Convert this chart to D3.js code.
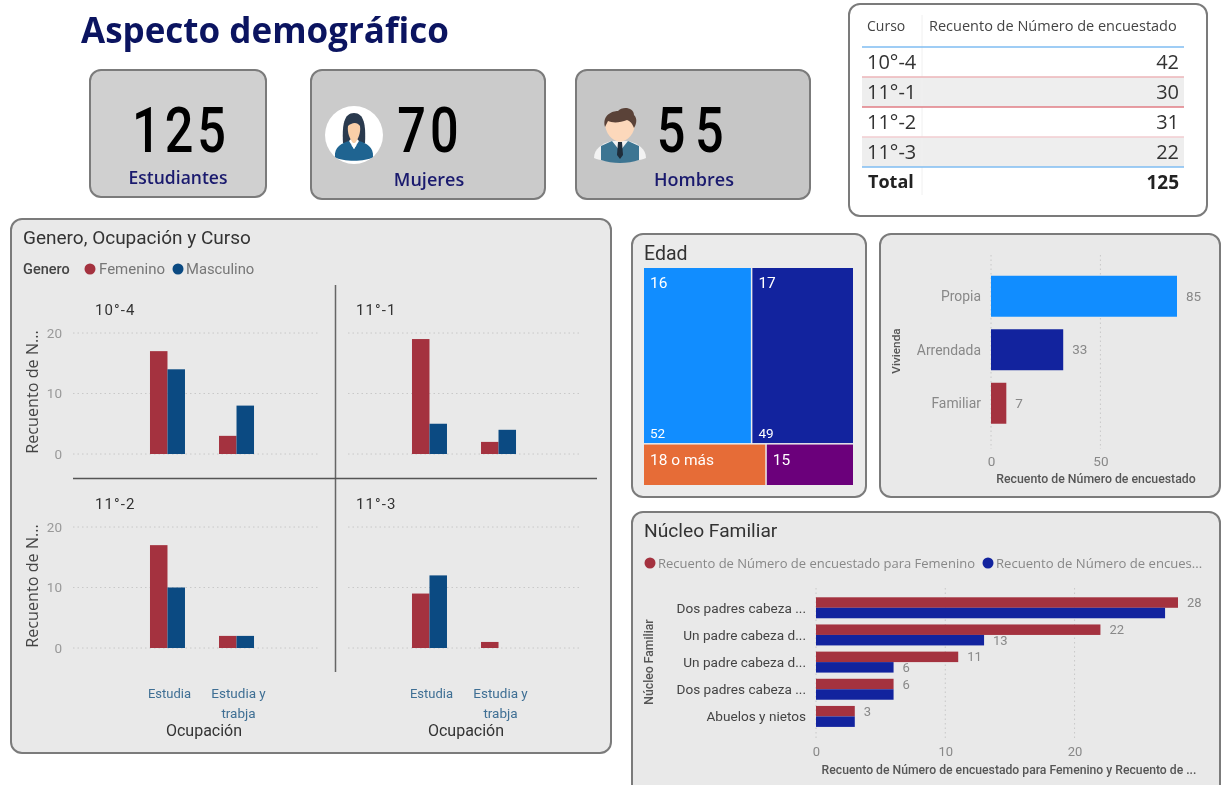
<!DOCTYPE html>
<html>
<head>
<meta charset="utf-8">
<script src="https://cdn.jsdelivr.net/npm/d3@7"></script>
<style>
  html, body { margin: 0; padding: 0; background: #fff; overflow: hidden; }
  text { font-family: "Roboto", sans-serif; }
  .segoe { font-family: "Open Sans", sans-serif; }
  svg { filter: blur(0.35px); }
</style>
</head>
<body>
<div id="chart"></div>
<script>
// tarjetas
const kpiValues = ["125", "70", "55"];
const kpiLabels = ["Estudiantes", "Mujeres", "Hombres"];

// tabla por curso
const cursos = ["10°-4", "11°-1", "11°-2", "11°-3"];
const cursoTotales = [42, 30, 31, 22];
const totalGeneral = 125;

// genero, ocupacion y curso
const ocupaciones = ["Estudia", "Estudia y trabja"];
const femenino = [[17, 3], [19, 2], [17, 2], [9, 1]];
const masculino = [[14, 8], [5, 4], [10, 2], [12, 0]];
const facetTicks = [0, 10, 20];

// edad
const edades = ["16", "17", "18 o más", "15"];
const edadValores = [52, 49, 14, 10];
const edadColores = ["#118dff", "#12239e", "#e66c37", "#6b007b"];

// vivienda
const viviendas = ["Propia", "Arrendada", "Familiar"];
const viviendaValores = [85, 33, 7];
const viviendaColores = ["#118dff", "#12239e", "#a4323f"];
const viviendaTicks = [0, 50];

// nucleo familiar
const nucleos = ["Dos padres cabeza ...", "Un padre cabeza d...", "Un padre cabeza d...", "Dos padres cabeza ...", "Abuelos y nietos"];
const nucleoFem = [28, 22, 11, 6, 3];
const nucleoMasc = [27, 13, 6, 6, 3];
const nucleoMascEtiqueta = [false, true, true, false, false]; // las demas no caben
const nucleoTicks = [0, 10, 20];

const red = "#a4323f";
const blue = "#0b4a82";
const navy = "#12239e";
const border = "#7b7b7b";

const svg = d3.select("#chart").append("svg")
    .attr("width", 1221)
    .attr("height", 785)
    .style("display", "block");

function card(x, y, w, h, fill) {
    svg.append("rect")
        .attr("x", x).attr("y", y)
        .attr("width", w).attr("height", h)
        .attr("rx", 11)
        .attr("fill", fill)
        .attr("stroke", border)
        .attr("stroke-width", 2);
}

function label(g, x, y, txt, size, color, anchor, cls) {
    return g.append("text")
        .attr("class", cls || null)
        .attr("x", x).attr("y", y)
        .attr("dy", "0.35em")
        .attr("text-anchor", anchor || "start")
        .attr("font-size", size)
        .attr("fill", color)
        .text(txt);
}

// titulo
label(svg, 81, 31, "Aspecto demográfico", 35, "#0b1460", "start", "segoe")
    .attr("font-weight", 700);

// tarjetas KPI
const kpiBoxes = [
    {x: 90, y: 70, w: 176, h: 127, fill: "#d0d0d0", vx: 181, lx: 178, ly: 178, spacing: 5, ls: 17.5},
    {x: 311, y: 70, w: 234, h: 129, fill: "#cbcbcb", vx: 430, lx: 429, ly: 180, spacing: 5, ls: 18},
    {x: 576, y: 70, w: 234, h: 129, fill: "#c6c6c6", vx: 695, lx: 694, ly: 180, spacing: 12, ls: 18}
];
kpiBoxes.forEach((b, i) => {
    card(b.x, b.y, b.w, b.h, b.fill);
    // digitos estrechos, como la fuente del original
    svg.append("text")
        .attr("transform", "translate(" + b.vx + ",130) scale(0.8,1)")
        .attr("dy", "0.35em")
        .attr("text-anchor", "middle")
        .attr("font-size", 63)
        .attr("font-weight", 500)
        .attr("letter-spacing", b.spacing)
        .attr("fill", "#000")
        .text(kpiValues[i]);
    label(svg, b.lx, b.ly, kpiLabels[i], b.ls, "#1a1a6e", "middle", "segoe")
        .attr("font-weight", 600);
});

// icono mujer
const woman = svg.append("g").attr("transform", "translate(354,135)");
woman.append("circle").attr("r", 29).attr("fill", "#fff");
woman.append("path").attr("fill", "#2a3a4e")
    .attr("d", "M-11,8 C-12,-10 -10,-22 0,-22 C10,-22 12,-10 11,8 L6,10 L-6,10 Z");
woman.append("path").attr("fill", "#1f6491")
    .attr("d", "M-19,22 C-20,12 -12,8 -5,6 L0,14 L5,6 C12,8 20,12 19,22 C12,27 -12,27 -19,22 Z");
woman.append("path").attr("fill", "#fff")
    .attr("d", "M-5,6 L0,14 L5,6 L2,3 L-2,3 Z");
woman.append("path").attr("fill", "#f9cfa8")
    .attr("d", "M-6,-9 C-3,-12 3,-14 6,-9 C7,-2 4,4 1,8 L-1,8 C-4,4 -7,-2 -6,-9 Z");

// icono hombre
const man = svg.append("g").attr("transform", "translate(620,135)");
man.append("path").attr("fill", "#f2f2f2")
    .attr("d", "M-26,23 C-26,14 -18,8 -8,6 L8,6 C18,8 26,14 26,23 C14,28 -14,28 -26,23 Z");
man.append("path").attr("fill", "#3d7592")
    .attr("d", "M-19,25 L-19,11 L-8,6 L0,16 L8,6 L19,11 L19,25 C8,29 -8,29 -19,25 Z");
man.append("path").attr("fill", "#1f2d3a")
    .attr("d", "M-2,7 L2,7 L3,20 L0,24 L-3,20 Z");
man.append("path").attr("fill", "#fcd8bb")
    .attr("d", "M-15,-12 C-15,-18 15,-18 15,-12 C15,-2 8,6 0,7 C-8,6 -15,-2 -15,-12 Z");
man.append("path").attr("fill", "#5a4238")
    .attr("d", "M-15,-8 C-18,-20 -8,-24 -2,-24 C2,-29 14,-28 14,-20 C18,-16 16,-10 14,-7 C12,-12 10,-14 7,-15 C0,-12 -8,-12 -12,-14 C-13,-12 -14,-10 -15,-8 Z");

// tabla
card(849, 4, 358, 212, "#fff");
const table = svg.append("g");
const rowY = d3.scaleBand().domain(cursos).range([47, 167]);
const rowLines = ["#ecb4b9", "#e07d84", "#f2ccd0"];
cursos.forEach((c, i) => {
    if (i % 2 == 1) {
        table.append("rect")
            .attr("x", 862).attr("y", rowY(c))
            .attr("width", 322).attr("height", rowY.bandwidth())
            .attr("fill", "#eeeeee");
    }
});
table.append("line")
    .attr("x1", 922).attr("x2", 922)
    .attr("y1", 15).attr("y2", 195)
    .attr("stroke", "#f0f0f0");
[47, 167].forEach(y => {
    table.append("line")
        .attr("x1", 862).attr("x2", 1184)
        .attr("y1", y).attr("y2", y)
        .attr("stroke", "#7fbdf2").attr("stroke-width", 1.5);
});
rowLines.forEach((col, i) => {
    const y = rowY(cursos[i + 1]);
    table.append("line")
        .attr("x1", 862).attr("x2", 1184)
        .attr("y1", y).attr("y2", y)
        .attr("stroke", col).attr("stroke-width", 1.5);
});
label(table, 867, 26, "Curso", 14, "#444", "start", "segoe");
label(table, 929, 26, "Recuento de Número de encuestado", 14.5, "#444", "start", "segoe");
cursos.forEach((c, i) => {
    const yc = rowY(c) + rowY.bandwidth() / 2;
    label(table, 867, yc, c, 20, "#333", "start", "segoe");
    label(table, 1179, yc, cursoTotales[i], 20, "#333", "end", "segoe");
});
label(table, 868, 182, "Total", 18, "#222", "start", "segoe").attr("font-weight", 700);
label(table, 1179, 182, totalGeneral, 19, "#222", "end", "segoe").attr("font-weight", 700);

// panel genero / ocupacion / curso
card(11, 219, 600, 534, "#e9e9e9");
label(svg, 23, 237, "Genero, Ocupación y Curso", 19, "#333");
label(svg, 23, 269, "Genero", 14.5, "#444").attr("font-weight", 500);
svg.append("circle").attr("cx", 90).attr("cy", 269).attr("r", 5.5).attr("fill", red);
label(svg, 99, 269, "Femenino", 15, "#777");
svg.append("circle").attr("cx", 178).attr("cy", 269).attr("r", 5.5).attr("fill", blue);
label(svg, 186, 269, "Masculino", 14.8, "#777");

const facets = [
    {x0: 133, y0: 454, y1: 333, gx0: 73, gx1: 320, lx: 95, ly: 310},
    {x0: 395, y0: 454, y1: 333, gx0: 348, gx1: 581, lx: 356, ly: 310},
    {x0: 133, y0: 648, y1: 527, gx0: 73, gx1: 320, lx: 95, ly: 504},
    {x0: 395, y0: 648, y1: 527, gx0: 348, gx1: 581, lx: 356, ly: 504}
];
const series = ["Femenino", "Masculino"];

facets.forEach((f, i) => {
    const g = svg.append("g");
    const x = d3.scaleBand()
        .domain(ocupaciones)
        .range([f.x0, f.x0 + 138])
        .paddingInner(0.493)
        .paddingOuter(0.246);
    const x1 = d3.scaleBand().domain(series).range([0, x.bandwidth()]);
    const y = d3.scaleLinear().domain([0, 20]).range([f.y0, f.y1]);

    g.selectAll("line.grid").data(facetTicks).enter().append("line")
        .attr("class", "grid")
        .attr("x1", f.gx0).attr("x2", f.gx1)
        .attr("y1", d => y(d)).attr("y2", d => y(d))
        .attr("stroke", "#c8c8c8")
        .attr("stroke-dasharray", "1.5 3");

    if (i % 2 == 0) {
        const axis = g.append("g")
            .attr("transform", "translate(66,0)")
            .call(d3.axisLeft(y).tickValues(facetTicks).tickSize(0).tickPadding(4));
        axis.select(".domain").remove();
        axis.selectAll("text").attr("font-size", 13.5).attr("fill", "#999").style("font-family", "Roboto");
        g.append("text")
            .attr("transform", "translate(32," + (f.y0 - 62) + ") rotate(-90)")
            .attr("dy", "0.35em")
            .attr("text-anchor", "middle")
            .attr("font-size", 16.2)
            .attr("fill", "#444")
            .attr("class", "segoe")
            .text("Recuento de N...");
    }

    ocupaciones.forEach((o, j) => {
        g.append("rect")
            .attr("x", x(o) + x1("Femenino"))
            .attr("y", y(femenino[i][j]))
            .attr("width", x1.bandwidth())
            .attr("height", y(0) - y(femenino[i][j]))
            .attr("fill", red);
        g.append("rect")
            .attr("x", x(o) + x1("Masculino"))
            .attr("y", y(masculino[i][j]))
            .attr("width", x1.bandwidth())
            .attr("height", y(0) - y(masculino[i][j]))
            .attr("fill", blue);
    });

    label(g, f.lx, f.ly, cursos[i], 15, "#333").attr("letter-spacing", 1.1);

    if (i >= 2) {
        const cx = o => x(o) + x.bandwidth() / 2 + 2;
        label(g, cx(ocupaciones[0]), 693, "Estudia", 13, "#3f6f94", "middle");
        label(g, cx(ocupaciones[1]), 693, "Estudia y", 13.5, "#3f6f94", "middle");
        label(g, cx(ocupaciones[1]), 713, "trabja", 13.5, "#3f6f94", "middle");
        label(g, f.x0 + 71, 730, "Ocupación", 16, "#333", "middle");
    }
});

// divisores de facetas
svg.append("line").attr("x1", 335.5).attr("x2", 335.5).attr("y1", 285).attr("y2", 672)
    .attr("stroke", "#666").attr("stroke-width", 1.5);
svg.append("line").attr("x1", 73).attr("x2", 597).attr("y1", 478.5).attr("y2", 478.5)
    .attr("stroke", "#555").attr("stroke-width", 1.5);

// edad (treemap)
card(632, 234, 234, 263, "#ebebeb");
label(svg, 644, 253, "Edad", 19.5, "#333");
const root = d3.hierarchy({children: edades.map((e, i) => ({name: e, value: edadValores[i], color: edadColores[i]}))})
    .sum(d => d.value || 0);
d3.treemap().tile(d3.treemapSquarify).size([209, 217]).paddingInner(1.5)(root);
const tm = svg.append("g").attr("transform", "translate(644,268)");
root.leaves().forEach((d, i) => {
    tm.append("rect")
        .attr("x", d.x0).attr("y", d.y0)
        .attr("width", d.x1 - d.x0).attr("height", d.y1 - d.y0)
        .attr("fill", d.data.color);
    label(tm, d.x0 + 6, d.y0 + 15, d.data.name, 15.5, "#fff");
    if (i < 2) label(tm, d.x0 + 6, d.y1 - 10, d.data.value, 13.5, "#fff");
});

// vivienda
card(880, 234, 340, 263, "#e9e9e9");
const vx = d3.scaleLinear().domain([0, 85]).range([991, 1177]);
const vy = d3.scaleBand().domain(viviendas).range([269.5, 430]).paddingInner(0.234).paddingOuter(0.117);
const vg = svg.append("g");
vg.selectAll("line.grid").data(viviendaTicks).enter().append("line")
    .attr("class", "grid")
    .attr("x1", d => vx(d)).attr("x2", d => vx(d))
    .attr("y1", 255).attr("y2", 449)
    .attr("stroke", "#c8c8c8")
    .attr("stroke-dasharray", "1.5 3");
vg.selectAll("rect").data(viviendas).enter().append("rect")
    .attr("x", vx(0))
    .attr("y", d => vy(d))
    .attr("width", (d, i) => vx(viviendaValores[i]) - vx(0))
    .attr("height", vy.bandwidth())
    .attr("fill", (d, i) => viviendaColores[i]);
viviendas.forEach((v, i) => {
    const yc = vy(v) + vy.bandwidth() / 2;
    label(vg, 981, yc, v, 13.9, "#888", "end");
    label(vg, vx(viviendaValores[i]) + 9, yc, viviendaValores[i], 13.5, "#888");
});
const vAxis = vg.append("g")
    .attr("transform", "translate(0,453)")
    .call(d3.axisBottom(vx).tickValues(viviendaTicks).tickSize(0).tickPadding(3));
vAxis.select(".domain").remove();
vAxis.selectAll("text").attr("font-size", 13.5).attr("fill", "#888").style("font-family", "Roboto");
label(vg, 1096, 479, "Recuento de Número de encuestado", 12.3, "#555", "middle").attr("font-weight", 500);
vg.append("text")
    .attr("transform", "translate(896,351) rotate(-90)")
    .attr("dy", "0.35em")
    .attr("text-anchor", "middle")
    .attr("font-size", 11.8)
    .attr("font-weight", 500)
    .attr("fill", "#555")
    .text("Vivienda");

// nucleo familiar
card(632, 512, 588, 290, "#e9e9e9");
label(svg, 644, 530, "Núcleo Familiar", 19.2, "#333");
svg.append("circle").attr("cx", 650).attr("cy", 563).attr("r", 5.5).attr("fill", red);
label(svg, 658, 563, "Recuento de Número de encuestado para Femenino", 13, "#888", "start", "segoe");
svg.append("circle").attr("cx", 988).attr("cy", 563).attr("r", 5.5).attr("fill", navy);
label(svg, 996, 563, "Recuento de Número de encues...", 13.1, "#888", "start", "segoe");

const nx = d3.scaleLinear().domain([0, 28]).range([816, 1178]);
const ny = d3.scaleBand().domain(d3.range(nucleos.length)).range([594.2, 730]).paddingInner(0.228).paddingOuter(0.114);
const ng = svg.append("g");
ng.selectAll("line.grid").data(nucleoTicks).enter().append("line")
    .attr("class", "grid")
    .attr("x1", d => nx(d)).attr("x2", d => nx(d))
    .attr("y1", 588).attr("y2", 738)
    .attr("stroke", "#c8c8c8")
    .attr("stroke-dasharray", "1.5 3");
nucleos.forEach((n, i) => {
    const h = ny.bandwidth() / 2;
    ng.append("rect")
        .attr("x", nx(0)).attr("y", ny(i))
        .attr("width", nx(nucleoFem[i]) - nx(0)).attr("height", h)
        .attr("fill", red);
    ng.append("rect")
        .attr("x", nx(0)).attr("y", ny(i) + h)
        .attr("width", nx(nucleoMasc[i]) - nx(0)).attr("height", h)
        .attr("fill", navy);
    label(ng, 806, ny(i) + h, n, 13.6, "#444", "end");
    label(ng, nx(nucleoFem[i]) + 9, ny(i) + h / 2, nucleoFem[i], 13, "#888");
    if (nucleoMascEtiqueta[i]) {
        label(ng, nx(nucleoMasc[i]) + 9, ny(i) + h * 1.5, nucleoMasc[i], 13, "#888");
    }
});
const nAxis = ng.append("g")
    .attr("transform", "translate(0,744)")
    .call(d3.axisBottom(nx).tickValues(nucleoTicks).tickSize(0).tickPadding(3));
nAxis.select(".domain").remove();
nAxis.selectAll("text").attr("font-size", 13).attr("fill", "#888").style("font-family", "Roboto");
label(ng, 1009, 770, "Recuento de Número de encuestado para Femenino y Recuento de ...", 12.2, "#555", "middle").attr("font-weight", 500);
ng.append("text")
    .attr("transform", "translate(649,662) rotate(-90)")
    .attr("dy", "0.35em")
    .attr("text-anchor", "middle")
    .attr("font-size", 12.2)
    .attr("font-weight", 500)
    .attr("fill", "#555")
    .text("Núcleo Familiar");
</script>
</body>
</html>
